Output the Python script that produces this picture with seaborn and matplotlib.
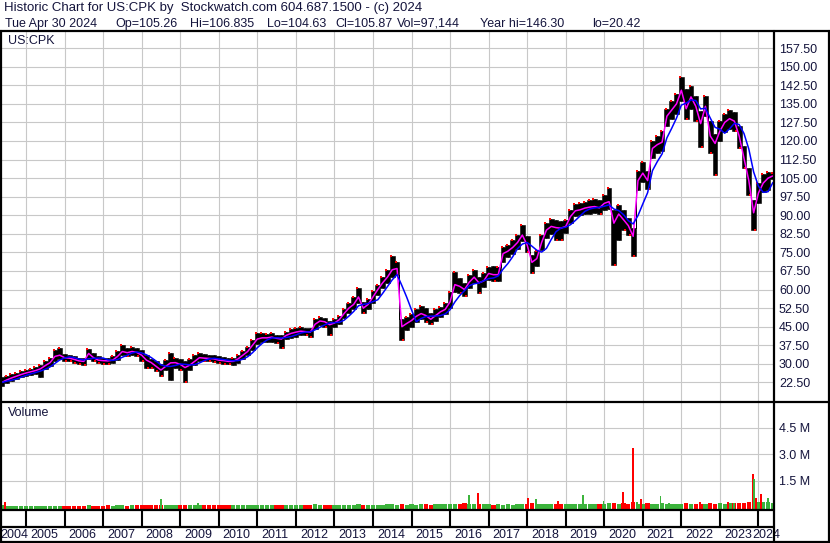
import numpy as np
import pandas as pd
import matplotlib
matplotlib.use("Agg")
import matplotlib.pyplot as plt
import seaborn as sns
from matplotlib.lines import Line2D

# ---------------- data ----------------
header1 = "Historic Chart for US:CPK by  Stockwatch.com 604.687.1500 - (c) 2024"
header2_fields = ["Tue Apr 30 2024", "Op=105.26", "Hi=106.835", "Lo=104.63",
                  "Cl=105.87", "Vol=97,144", "Year hi=146.30", "lo=20.42"]
symbol = "US:CPK"
vol_title = "Volume"

first_sample = 2004.375      # first sample (decimal year), one sample every 1/8 year
step = 0.125

close = [
    22.5, 23.5, 24.3, 25.0, 25.7,
    26.3, 26.8, 27.3, 28.0, 29.3, 30.5, 33.0, 33.5,
    32.5, 32.3, 31.8, 31.2, 31.0, 34.2, 32.5, 31.5,
    31.3, 31.2, 31.5, 33.0, 35.0, 34.5, 35.0, 34.6,
    33.5, 31.5, 30.5, 29.0, 27.5, 29.0, 30.4, 30.5,
    29.8, 28.5, 29.5, 31.0, 32.5, 32.3, 32.2, 32.0,
    31.5, 31.3, 31.0, 31.0, 32.0, 33.5, 35.0, 37.5,
    40.0, 40.5, 40.5, 40.8, 40.3, 40.0, 41.5, 42.3,
    42.8, 43.2, 43.0, 42.8, 46.0, 47.3, 47.0, 45.8,
    46.5, 47.8, 50.3, 52.5, 54.0, 57.0, 52.5, 54.0,
    57.0, 60.0, 62.7, 65.0, 68.0, 68.5, 45.0, 46.3,
    47.5, 49.2, 50.3, 49.5, 48.0, 49.5, 51.0, 52.0,
    55.0, 62.0, 61.3, 60.0, 63.0, 65.0, 62.7, 63.5,
    66.5, 66.0, 66.0, 74.5, 75.5, 77.0, 79.0, 82.0,
    78.0, 71.0, 72.5, 79.0, 84.0, 85.5, 85.0, 84.8,
    85.5, 89.5, 91.8, 92.2, 92.9, 93.3, 93.5, 93.0,
    94.8, 95.5, 86.8, 90.5, 88.2, 85.8, 81.5, 104.0,
    107.0, 104.0, 117.0, 118.5, 119.5, 130.0, 132.5, 135.0,
    140.5, 133.0, 137.8, 134.0, 127.0, 134.0, 122.0, 119.0,
    124.0, 127.5, 129.0, 128.0, 122.0, 113.0, 104.0, 91.0,
    99.0, 103.0, 105.0, 105.9,
]

high = [
    24.5, 25.0, 25.8, 26.5, 27.0,
    27.5, 28.0, 28.6, 29.5, 31.0, 32.5, 35.5, 36.6,
    34.0, 33.5, 33.0, 32.3, 32.3, 36.0, 34.5, 33.0,
    32.5, 32.5, 33.0, 35.0, 37.8, 36.5, 37.0, 36.5,
    35.5, 33.5, 32.0, 31.0, 30.0, 31.5, 34.5, 32.5,
    32.0, 31.0, 32.0, 33.5, 34.5, 34.0, 33.5, 33.5,
    33.0, 32.8, 32.5, 32.5, 33.5, 35.0, 37.0, 39.5,
    42.5, 42.5, 42.0, 42.3, 41.8, 41.5, 43.0, 44.0,
    44.5, 45.0, 44.5, 44.5, 48.0, 49.0, 48.5, 47.5,
    48.0, 49.5, 52.0, 54.5, 57.0, 60.6, 55.0, 56.0,
    59.5, 62.0, 65.0, 68.0, 73.4, 71.0, 48.0, 49.0,
    50.0, 52.0, 53.5, 52.5, 50.5, 52.0, 53.0, 54.5,
    59.0, 67.0, 64.5, 62.5, 66.0, 68.0, 65.0, 66.5,
    69.0, 69.4, 69.0, 77.0, 78.0, 80.0, 82.0, 86.2,
    81.5, 74.0, 75.5, 82.0, 87.0, 88.5, 88.0, 87.5,
    88.0, 92.0, 94.5, 95.0, 95.5, 96.0, 96.5, 96.0,
    98.0, 101.0, 92.0, 94.0, 92.0, 89.0, 85.0, 108.0,
    111.7, 108.0, 120.0, 122.0, 124.0, 133.0, 136.0, 139.0,
    146.0, 141.0, 142.0, 138.0, 132.0, 138.0, 128.0, 123.0,
    128.0, 131.0, 132.5, 131.5, 126.0, 118.0, 109.0, 96.0,
    103.0, 106.5, 107.5, 107.0,
]

low = [
    21.0, 22.3, 23.0, 23.8, 24.5,
    25.0, 25.5, 25.8, 24.5, 28.0, 29.3, 31.0, 32.0,
    31.2, 31.0, 30.5, 30.0, 29.5, 32.0, 31.0, 30.3,
    30.0, 30.0, 30.2, 31.5, 33.5, 33.0, 33.5, 33.0,
    31.0, 28.5, 28.5, 27.0, 25.0, 27.5, 23.5, 28.5,
    27.5, 22.6, 27.5, 29.5, 31.0, 31.0, 31.0, 30.7,
    30.3, 30.0, 29.8, 29.5, 30.5, 32.0, 33.5, 35.5,
    38.0, 39.0, 39.0, 39.0, 38.5, 36.5, 40.0, 40.5,
    41.0, 41.5, 41.5, 41.0, 44.0, 45.5, 45.0, 41.8,
    45.0, 46.0, 48.5, 50.5, 52.0, 54.5, 50.5, 52.0,
    54.5, 58.0, 60.5, 62.5, 65.0, 66.0, 39.8, 43.5,
    45.0, 47.0, 48.0, 47.0, 46.0, 47.5, 49.0, 50.0,
    52.5, 59.0, 58.5, 57.5, 60.5, 62.5, 58.8, 61.0,
    64.0, 63.5, 63.5, 71.0, 73.0, 74.5, 76.5, 79.5,
    75.0, 66.7, 69.5, 76.0, 81.0, 82.5, 80.0, 80.0,
    83.0, 87.0, 89.5, 90.0, 90.5, 90.5, 91.0, 90.5,
    92.0, 92.5, 70.0, 80.0, 84.0, 82.0, 73.4, 100.0,
    103.5, 100.5, 113.0, 115.0, 116.0, 126.0, 129.0, 131.0,
    136.0, 129.0, 133.0, 128.0, 117.7, 130.0, 115.0, 106.3,
    120.0, 123.5, 125.0, 124.0, 117.0, 109.0, 98.0, 84.2,
    95.0, 99.5, 100.0, 104.6,
]

# volume in millions (one value per sample)
volume = [
    0.08, 0.06, 0.05, 0.06, 0.05,
    0.05, 0.06, 0.04, 0.05, 0.06, 0.05, 0.07, 0.06,
    0.05, 0.06, 0.05, 0.07, 0.06, 0.08, 0.06, 0.05,
    0.07, 0.08, 0.06, 0.09, 0.08, 0.07, 0.10, 0.08,
    0.09, 0.08, 0.10, 0.09, 0.10, 0.12, 0.10, 0.09,
    0.10, 0.09, 0.11, 0.10, 0.12, 0.09, 0.10, 0.08,
    0.09, 0.10, 0.12, 0.10, 0.11, 0.13, 0.10, 0.09,
    0.12, 0.10, 0.13, 0.11, 0.12, 0.10, 0.11, 0.12,
    0.10, 0.12, 0.13, 0.11, 0.14, 0.12, 0.10, 0.11,
    0.12, 0.10, 0.13, 0.11, 0.12, 0.14, 0.11, 0.12,
    0.12, 0.13, 0.11, 0.14, 0.16, 0.12, 0.15, 0.13,
    0.14, 0.13, 0.16, 0.15, 0.13, 0.17, 0.14, 0.15,
    0.16, 0.18, 0.15, 0.20, 0.17, 0.15, 0.18, 0.16,
    0.15, 0.13, 0.14, 0.12, 0.15, 0.13, 0.14, 0.16,
    0.17, 0.20, 0.16, 0.18, 0.15, 0.17, 0.14, 0.16,
    0.15, 0.14, 0.16, 0.15, 0.17, 0.14, 0.15, 0.16,
    0.16, 0.20, 0.22, 0.18, 0.20, 0.17, 0.25, 0.19,
    0.18, 0.20, 0.17, 0.19, 0.21, 0.18, 0.16, 0.17,
    0.18, 0.20, 0.17, 0.19, 0.16, 0.18, 0.20, 0.17,
    0.20, 0.18, 0.22, 0.20, 0.24, 0.22, 0.30, 0.35,
    0.30, 0.28, 0.25, 0.22,
]

# individual high-volume weeks
spike_year = [2004.455, 2008.49, 2009.46, 2016.49, 2016.72, 2018.03, 2018.22, 2018.79,
              2019.46, 2019.98, 2020.48, 2020.74, 2020.85, 2020.95, 2021.46, 2021.68,
              2022.48, 2023.20, 2023.37, 2023.85, 2023.88, 2023.93, 2024.07, 2024.24]
spike_vol = [0.25, 0.45, 0.20, 0.65, 0.78, 0.49, 0.43, 0.31,
             0.67, 0.31, 0.86, 3.37, 0.25, 0.47, 0.64, 0.20,
             0.25, 0.25, 0.20, 1.86, 1.60, 0.50, 0.75, 0.52]
spike_up = [False, True, True, True, False, False, True, False,
            True, True, False, False, True, False, True, True,
            False, False, True, False, True, False, False, True]

price_ticks = [22.5, 30.0, 37.5, 45.0, 52.5, 60.0, 67.5, 75.0, 82.5, 90.0,
               97.5, 105.0, 112.5, 120.0, 127.5, 135.0, 142.5, 150.0, 157.5]
vol_ticks = [1.5, 3.0, 4.5]
vol_tick_labels = ["1.5 M", "3.0 M", "4.5 M"]
year_labels = list(range(2004, 2025))

assert len(close) == len(high) == len(low) == len(volume)

# ---------------- styling / layout ----------------
sns.set_theme(style="white")
plt.rcParams['font.family'] = ['Liberation Sans', 'DejaVu Sans']

W, H = 830, 543
fig = plt.figure(figsize=(W / 100, H / 100), dpi=100)
fig.patch.set_facecolor("white")

def rect(x0, y0, x1, y1):
    return [x0 / W, 1 - y1 / H, (x1 - x0) / W, (y1 - y0) / H]

def px2yr(px):
    return 2005 + (px - 26) / 38.55

X0, X1 = 1, 774
XL = (px2yr(X0), px2yr(X1))
GRID = "#c8c8c8"
TXT = "#14143c"
FS = 9

ax_p = fig.add_axes(rect(X0, 31, X1, 401.5))
ax_v = fig.add_axes(rect(X0, 401.5, X1, 509.5))
ax_y = fig.add_axes(rect(X0, 509.5, X1, 541.5))

t = first_sample + np.arange(len(close)) * step
df = pd.DataFrame({"t": t, "close": close, "high": high, "low": low, "vol": volume})
df["ma_long"] = df["close"].rolling(4, min_periods=1).mean()
df["up"] = df["close"].diff().fillna(0) >= 0

year_bounds = list(range(2005, 2025))

for ax in (ax_p, ax_v):
    ax.set_facecolor("white")
    ax.set_xlim(*XL)
    ax.set_xticks(year_bounds)
    ax.grid(True, color=GRID, lw=0.8)
    for s in ax.spines.values():
        s.set_visible(False)
    ax.tick_params(axis="x", length=0, labelbottom=False)
    ax.yaxis.set_ticks_position("right")
    ax.tick_params(axis="y", length=0, labelleft=False, labelright=True,
                   pad=3.6, labelsize=FS, labelcolor=TXT)
    ax.set_axisbelow(True)

# ---- price panel ----
ax_p.set_ylim(14.8, 164.4)
ax_p.set_yticks(price_ticks)
ax_p.set_yticklabels([f"{v:.2f}" for v in price_ticks])

# dense high-low bars (staircase band) with thin bar texture
ax_p.fill_between(df["t"], df["low"], df["high"], step="mid", color="black",
                  lw=0.4, zorder=2)
ax_p.vlines(df["t"], df["low"], df["high"], color="black", lw=1.0, zorder=2)
down = df[~df["up"]]
ax_p.scatter(down["t"] + 0.03, down["low"], marker="s", s=4, color="#ff0000", lw=0, zorder=3)
upd = df[df["up"]]
ax_p.scatter(upd["t"] - 0.03, upd["high"], marker="s", s=3, color="#ff0000", lw=0, zorder=3)
sns.lineplot(data=df, x="t", y="close", ax=ax_p, color="#ff00ff", lw=1.1, zorder=4)
sns.lineplot(data=df, x="t", y="ma_long", ax=ax_p, color="#0000ff", lw=1.1, zorder=5)
ax_p.set_xlabel("")
ax_p.set_ylabel("")
ax_p.text(8 / W, 1 - 41 / H, symbol, transform=fig.transFigure, fontsize=FS,
          color=TXT, va="center", ha="left")

# ---- volume panel ----
VB = -0.15
ax_v.set_ylim(VB, 6.0)
ax_v.set_yticks(vol_ticks)
ax_v.set_yticklabels(vol_tick_labels)
green, red = "#3cb43c", "#ff0000"
ax_v.bar(df["t"], df["vol"] - VB, bottom=VB, width=0.11,
         color=[green if u else red for u in df["up"]], lw=0, zorder=2)
ax_v.bar(spike_year, np.array(spike_vol) - VB, bottom=VB, width=0.05,
         color=[green if u else red for u in spike_up], lw=0, zorder=3)
ax_v.text(8 / W, 1 - 413 / H, vol_title, transform=fig.transFigure, fontsize=FS,
          color=TXT, va="center", ha="left")

# ---- year strip ----
ax_y.set_xlim(*XL)
ax_y.set_ylim(0, 1)
ax_y.axis("off")
mid = (541.5 - 527) / 32
ax_y.vlines(year_bounds, mid, 1, color="black", lw=1.5)
for yv in year_labels:
    if yv == 2004:
        xpos = px2yr(0.5)
    elif yv == 2024:
        xpos = px2yr(752)
    else:
        xpos = yv + 4 / 38.55
    ax_y.text(xpos, 0.2, str(yv), fontsize=FS, color=TXT, ha="left", va="center",
              clip_on=False)

# ---- frame lines ----
def hline(y, x0, x1, lw=1.6):
    fig.add_artist(Line2D([x0 / W, x1 / W], [1 - y / H, 1 - y / H],
                          transform=fig.transFigure, color="black", lw=lw))

def vline(x, y0, y1, lw=1.6):
    fig.add_artist(Line2D([x / W, x / W], [1 - y0 / H, 1 - y1 / H],
                          transform=fig.transFigure, color="black", lw=lw))

hline(31, 0, 830)
hline(401.5, 0, 830)
hline(510, 0, 774)
hline(527, 0, 774)
hline(541.8, 0, 830)
vline(0.8, 31, 543)
vline(774, 31, 543)
vline(828.5, 31, 543)

# ---- header ----
fig.text(4 / W, 1 - 8 / H, header1, fontsize=9.5, color=TXT, va="center", ha="left")
field_x = [5, 115, 190, 267, 335, 397, 480, 592]
for fx, txt in zip(field_x, header2_fields):
    fig.text(fx / W, 1 - 24 / H, txt, fontsize=FS, color=TXT, va="center", ha="left")

fig.savefig("out.png", dpi=100, facecolor="white")
